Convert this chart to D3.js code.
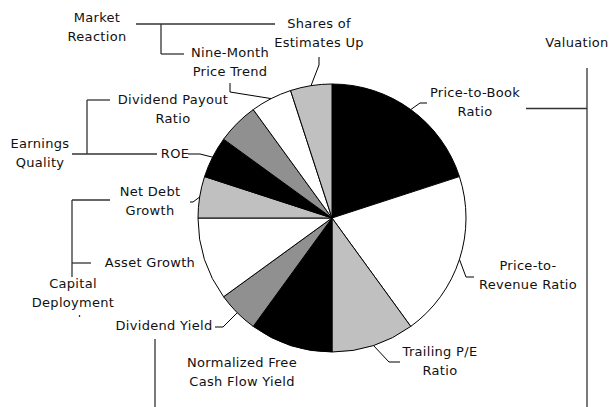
<!DOCTYPE html>
<html>
<head>
<meta charset="utf-8">
<script src="https://cdn.jsdelivr.net/npm/d3@7"></script>
<style>
  html, body { margin: 0; padding: 0; background: #fff; }
  svg { display: block; }
  text { font-family: "DejaVu Sans", sans-serif; font-size: 13px; fill: #111; letter-spacing: 0.3px; }
</style>
</head>
<body>
<script>
// ---- data ----
const categories = ["Price-to-Book Ratio", "Price-to-Revenue Ratio", "Trailing P/E Ratio",
  "Normalized Free Cash Flow Yield", "Dividend Yield", "Asset Growth", "Net Debt Growth",
  "ROE", "Dividend Payout Ratio", "Nine-Month Price Trend", "Shares of Estimates Up"];
const weights = [20, 20, 10, 10, 5, 10, 5, 5, 5, 5, 5];
const groups = ["Valuation", "Capital Deployment", "Earnings Quality", "Market Reaction"];

// ---- styles ----
const palette = ["#000000", "#ffffff", "#c0c0c0", "#000000", "#909090", "#ffffff",
  "#c0c0c0", "#000000", "#909090", "#ffffff", "#c0c0c0"];

const W = 612, H = 407;
const cx = 332, cy = 218, R = 134;

const svg = d3.select("body").append("svg").attr("width", W).attr("height", H);

const color = d3.scaleOrdinal().domain(categories).range(palette);
const pie = d3.pie().sort(null).value((d, i) => weights[i]);
const arcs = pie(categories);
const arc = d3.arc().innerRadius(0).outerRadius(R);

const g = svg.append("g").attr("transform", `translate(${cx},${cy})`);
g.selectAll("path").data(arcs).enter().append("path")
  .attr("d", arc)
  .attr("fill", d => color(d.data))
  .attr("stroke", "#000").attr("stroke-width", 1);

function edge(i) {
  const a = (arcs[i].startAngle + arcs[i].endAngle) / 2;
  return [cx + R * Math.sin(a), cy - R * Math.cos(a)];
}

// ---- label layout ----
const labelLayout = {
  "Price-to-Book Ratio": { lines: ["Price-to-Book", "Ratio"], x: 475, y: 97, leader: [[427, 103], [420, 103]] },
  "Price-to-Revenue Ratio": { lines: ["Price-to-", "Revenue Ratio"], x: 528, y: 270, leader: [[474, 277], [466, 277]] },
  "Trailing P/E Ratio": { lines: ["Trailing P/E", "Ratio"], x: 440, y: 356, leader: [[400, 362], [389, 362]] },
  "Normalized Free Cash Flow Yield": { lines: ["Normalized Free", "Cash Flow Yield"], x: 242, y: 367, leader: null },
  "Dividend Yield": { lines: ["Dividend Yield"], x: 164, y: 330, leader: [[215, 327], [223, 327]] },
  "Asset Growth": { lines: ["Asset Growth"], x: 150, y: 267, leader: null },
  "Net Debt Growth": { lines: ["Net Debt", "Growth"], x: 150, y: 196, leader: [[190, 202], [193, 202]] },
  "ROE": { lines: ["ROE"], x: 175, y: 158, leader: [[188, 154], [200, 154]] },
  "Dividend Payout Ratio": { lines: ["Dividend Payout", "Ratio"], x: 173, y: 104, leader: null },
  "Nine-Month Price Trend": { lines: ["Nine-Month", "Price Trend"], x: 230, y: 57, leader: [[230, 83], [230, 92]] },
  "Shares of Estimates Up": { lines: ["Shares of", "Estimates Up"], x: 319, y: 28, leader: [[319, 57], [319, 65]] }
};
const groupLayout = {
  "Valuation": { lines: ["Valuation"], x: 577, y: 47,
    segs: [[[587, 68], [587, 407]], [[526, 108.5], [587, 108.5]]] },
  "Capital Deployment": { lines: ["Capital", "Deployment"], x: 73, y: 288,
    segs: [[[72, 200], [110, 200]], [[72, 200], [72, 277]], [[72, 263], [91, 263]], [[79.5, 315], [79.5, 317]], [[155, 339], [155, 407]]] },
  "Earnings Quality": { lines: ["Earnings", "Quality"], x: 40, y: 148,
    segs: [[[72, 154], [157, 154]], [[87, 100], [87, 154]], [[87, 100], [110, 100]]] },
  "Market Reaction": { lines: ["Market", "Reaction"], x: 97, y: 22,
    segs: [[[136, 24], [275, 24]], [[161, 24], [161, 54]], [[161, 54], [184, 54]]] }
};

const lineGap = 18.5;
function drawText(lay) {
  const t = svg.append("text").attr("text-anchor", "middle");
  lay.lines.forEach((s, k) => {
    t.append("tspan").attr("x", lay.x).attr("y", lay.y + k * lineGap).text(s);
  });
}

const lineGen = d3.line();
categories.forEach((c, i) => {
  const lay = labelLayout[c];
  drawText(lay);
  if (lay.leader) {
    svg.append("path").attr("d", lineGen(lay.leader.concat([edge(i)])))
      .attr("fill", "none").attr("stroke", "#000").attr("stroke-width", 1);
  }
});

groups.forEach(gname => {
  const lay = groupLayout[gname];
  drawText(lay);
  lay.segs.forEach(s => {
    svg.append("path").attr("d", lineGen(s))
      .attr("fill", "none").attr("stroke", "#333").attr("stroke-width", 1.3);
  });
});
</script>
</body>
</html>
